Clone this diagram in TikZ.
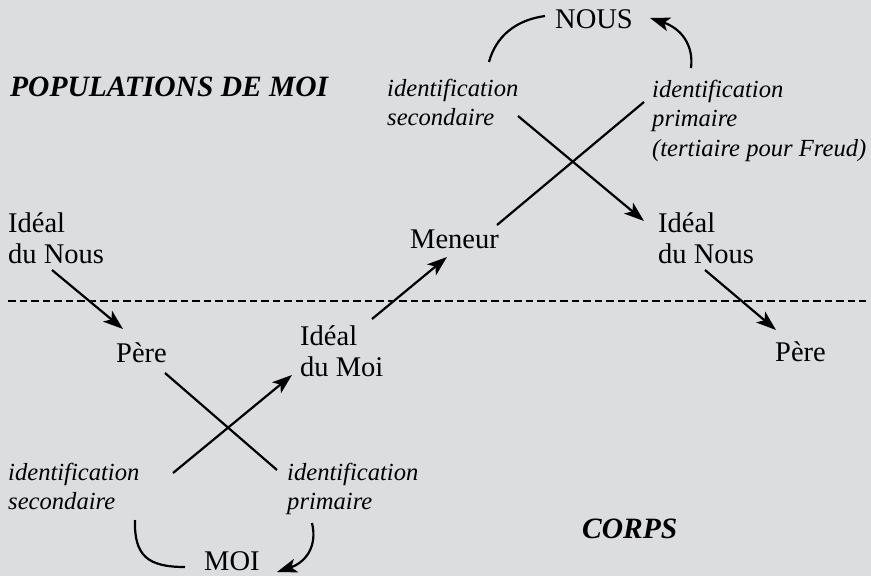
\documentclass[tikz,border=0pt]{standalone}
\usepackage{fontspec}
\setmainfont{Liberation Serif}
\usetikzlibrary{arrows.meta}
\definecolor{bg}{RGB}{220,221,223}
\begin{document}
\begin{tikzpicture}[x=1pt,y=-1pt,
  rm/.style={font=\fontsize{28.5}{31}\selectfont, inner sep=0pt, anchor=base west},
  it/.style={font=\fontsize{24.6}{29.5}\selectfont\itshape, inner sep=0pt, anchor=base west},
  bi/.style={font=\fontsize{29.5}{32}\selectfont\bfseries\itshape, inner sep=0pt, anchor=base west},
  conn/.style={line width=2.2pt},
  arr/.style={conn, -{Stealth[length=20pt,width=14pt,inset=5pt]}},
  sep/.style={line width=1.6pt, dash pattern=on 7.5pt off 4pt}]
\fill[bg] (0,0) rectangle (871,576);
\useasboundingbox (0,0) rectangle (871,576);

% texts
\node[bi] (pop) at (10,96) {POPULATIONS DE MOI};
\node[rm] (nous) at (555,28) {NOUS};
\node[it] (idsecH) at (387,96) {\vtop{\hbox{identification}\hbox{secondaire}}};
\node[it] (idprimH) at (652,97) {\vtop{\hbox{identification}\hbox{primaire}\hbox{(tertiaire pour Freud)}}};
\node[rm] (idnousL) at (8,232) {\vtop{\hbox{Idéal}\hbox{du Nous}}};
\node[rm] (meneur) at (410,248) {Meneur};
\node[rm] (idnousR) at (658,232) {\vtop{\hbox{Idéal}\hbox{du Nous}}};
\node[rm] (pereL) at (116,362) {Père};
\node[rm] (idmoi) at (300,345) {\vtop{\hbox{Idéal}\hbox{du Moi}}};
\node[rm] (pereR) at (775,361) {Père};
\node[it] (idsecB) at (8,480) {\vtop{\hbox{identification}\hbox{secondaire}}};
\node[it] (idprimB) at (287,480) {\vtop{\hbox{identification}\hbox{primaire}}};
\node[rm] (moi) at (204,570) {MOI};
\node[bi] (corps) at (582,538) {CORPS};

% connector end points
\coordinate (nlA) at (489,62);  \coordinate (nlB) at (545,16);
\coordinate (nrA) at (691,68);  \coordinate (nrB) at (650,18);
\coordinate (x1A) at (518,116); \coordinate (x1B) at (644,221);
\coordinate (x2A) at (497,225); \coordinate (x2B) at (644,102);
\coordinate (mA) at (372,319);  \coordinate (mB) at (447,257);
\coordinate (pLA) at (52,270);  \coordinate (pLB) at (123,329);
\coordinate (pRA) at (705,270); \coordinate (pRB) at (776,330);
\coordinate (y1A) at (165,373); \coordinate (y1B) at (277,470);
\coordinate (y2A) at (173,473); \coordinate (y2B) at (292,375);
\coordinate (blA) at (135,520); \coordinate (blB) at (185,567);
\coordinate (brA) at (312,523); \coordinate (brB) at (277,572);
\coordinate (dl) at (8,301);    \coordinate (dr) at (866,301);

% connectors
\draw[sep] (dl) -- (dr);
\draw[conn] (nlA) .. controls (496,36) and (516,20) .. (nlB);
\draw[arr] (nrA) .. controls (694,44) and (680,28) .. (nrB);
\draw[arr] (x1A) -- (x1B);
\draw[conn] (x2A) -- (x2B);
\draw[arr] (mA) -- (mB);
\draw[arr] (pLA) -- (pLB);
\draw[arr] (pRA) -- (pRB);
\draw[conn] (y1A) -- (y1B);
\draw[arr] (y2A) -- (y2B);
\draw[conn] (blA) .. controls (134,556) and (148,567) .. (blB);
\draw[arr] (brA) .. controls (318,548) and (304,563) .. (brB);
\end{tikzpicture}
\end{document}
